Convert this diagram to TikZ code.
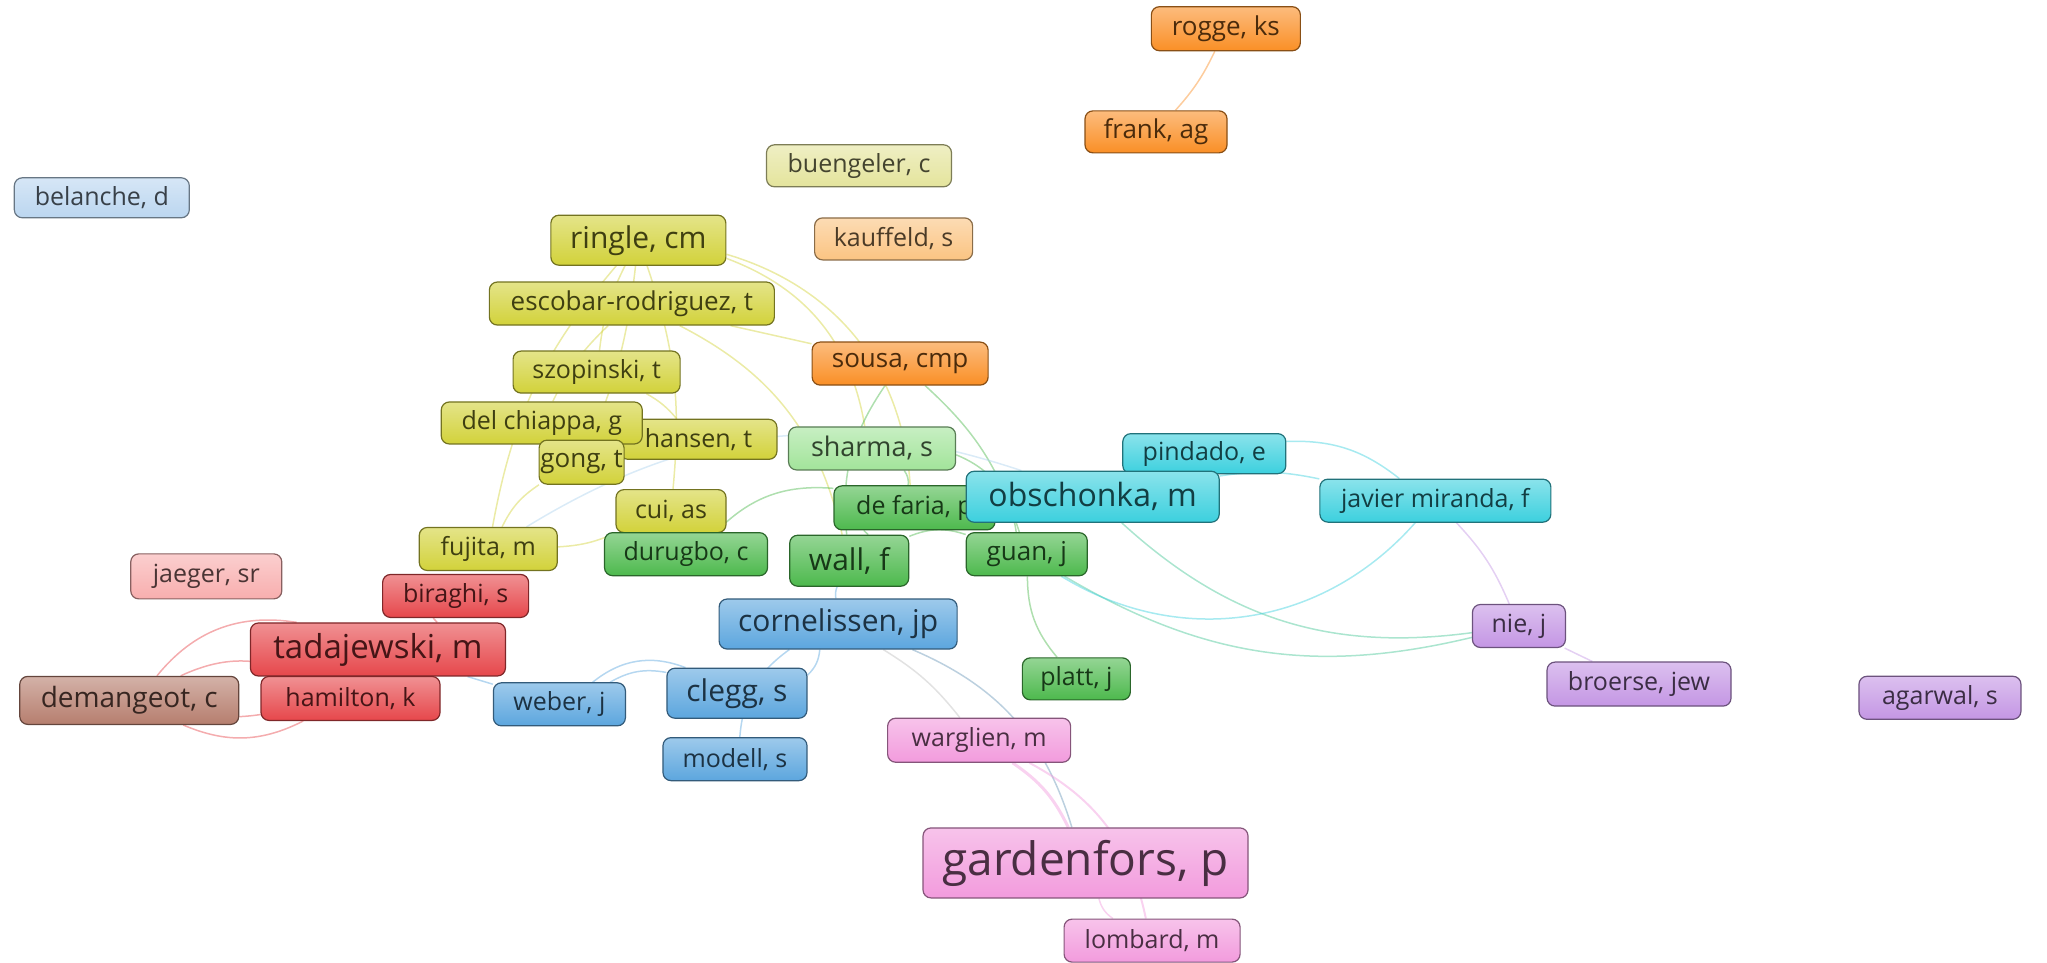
\documentclass[tikz,border=0pt]{standalone}
\usepackage{fontspec}
\setmainfont{Open Sans}
\usetikzlibrary{backgrounds}

\definecolor{cYel}{HTML}{D2D23A}
\definecolor{cPaleYel}{HTML}{E4E49C}
\definecolor{cGrn}{HTML}{4DB94D}
\definecolor{cLGrn}{HTML}{A2E49A}
\definecolor{cBlu}{HTML}{5CA6DE}
\definecolor{cLBlu}{HTML}{BBD6F0}
\definecolor{cCya}{HTML}{3CD0DE}
\definecolor{cRed}{HTML}{E6474B}
\definecolor{cPink}{HTML}{F8AEAE}
\definecolor{cBrn}{HTML}{B67E6E}
\definecolor{cOra}{HTML}{FA8F26}
\definecolor{cPeach}{HTML}{FBC482}
\definecolor{cPur}{HTML}{C496E4}
\definecolor{cMag}{HTML}{F29BDD}

\newcommand\fsz[1]{\fontsize{#1}{#1}\selectfont}

\begin{document}
\begin{tikzpicture}[x=1.3055pt, y=-1.3055pt,
    author/.style={rectangle, rounded corners=8pt, draw=#1!55!black, line width=1.2pt,
                   top color=#1!60!white, bottom color=#1, text=#1!30!black,
                   inner sep=0pt, font=\fsz{25}},
    wh/.style 2 args={minimum width=#1pt, minimum height=#2pt},
    link/.style={draw=#1, line width=1.5pt, opacity=0.45}]
  \useasboundingbox (0,0) rectangle (1568,737);

  % top and left
  \node[author=cOra, wh={149}{44}, font=\fsz{26}] (rogge) at (939,22) {rogge, ks};
  \node[author=cOra, wh={142}{42}, font=\fsz{26}] (frank) at (885.5,101) {frank, ag};
  \node[author=cPaleYel, wh={185}{42}] (buengeler) at (658,127) {buengeler, c};
  \node[author=cLBlu, wh={175}{40}] (belanche) at (78,151.5) {belanche, d};
  \node[author=cPeach, wh={158}{42}] (kauffeld) at (684.5,183) {kauffeld, s};

  % yellow group
  \node[author=cYel, wh={175}{50}, font=\fsz{30}] (ringle) at (489,184) {ringle, cm};
  \node[author=cYel, wh={285}{43}, font=\fsz{26}] (escobar) at (484,232.5) {escobar-rodriguez, t};
  \node[author=cOra, wh={176}{43}, font=\fsz{26}] (sousa) at (689.5,278.5) {sousa, cmp};
  \node[author=cYel, wh={167}{42}] (szopinski) at (457,285) {szopinski, t};
  \node[author=cYel, wh={157}{40}] (hansen) at (535,336.5) {hansen, t};
  \node[author=cYel, wh={201}{42}] (chiappa) at (415,324) {del chiappa, g};
  \node[author=cYel, wh={85}{44}, font=\fsz{26}] (gong) at (445.5,354) {gong, t};
  \node[author=cYel, wh={110}{43}] (cui) at (514,391.5) {cui, as};
  \node[author=cYel, wh={138}{43}] (fujita) at (374,420.5) {fujita, m};

  % green and cyan
  \node[author=cLGrn, wh={167}{43}, font=\fsz{27}] (sharma) at (668,343.5) {sharma, s};
  \node[author=cCya, wh={163}{40}] (pindado) at (922.5,347.5) {pindado, e};
  \node[author=cGrn, wh={161}{44}] (defaria) at (700.5,389) {de faria, p};
  \node[author=cCya, wh={253}{51}, font=\fsz{32}] (obschonka) at (837,380.5) {obschonka, m};
  \node[author=cCya, wh={231}{43}] (javier) at (1099.5,383.5) {javier miranda, f};
  \node[author=cGrn, wh={163}{43}] (durugbo) at (525.5,424.5) {durugbo, c};
  \node[author=cGrn, wh={119}{51}, font=\fsz{30}] (wall) at (650.5,429.5) {wall, f};
  \node[author=cGrn, wh={121}{43}, font=\fsz{26}] (guan) at (786.5,424.5) {guan, j};
  \node[author=cGrn, wh={108}{42}] (platt) at (824.5,520) {platt, j};

  % red and blue
  \node[author=cPink, wh={151}{45}] (jaeger) at (158,441.5) {jaeger, sr};
  \node[author=cRed, wh={146}{43}] (biraghi) at (349,456.5) {biraghi, s};
  \node[author=cRed, wh={255}{53}, font=\fsz{33}] (tadajewski) at (289.5,497.5) {tadajewski, m};
  \node[author=cBrn, wh={219}{48}, font=\fsz{28}] (demangeot) at (99,536.5) {demangeot, c};
  \node[author=cRed, wh={179}{44}] (hamilton) at (268.5,535) {hamilton, k};
  \node[author=cBlu, wh={238}{50}, font=\fsz{30}] (cornelissen) at (642,478) {cornelissen, jp};
  \node[author=cBlu, wh={132}{43}] (weber) at (428.5,539.5) {weber, j};
  \node[author=cBlu, wh={140}{50}, font=\fsz{30}] (clegg) at (564.5,531) {clegg, s};
  \node[author=cBlu, wh={144}{43}] (modell) at (563,581.5) {modell, s};

  % purple and pink
  \node[author=cPur, wh={93}{43}] (nie) at (1163.5,479.5) {nie, j};
  \node[author=cPur, wh={184}{44}] (broerse) at (1255.5,524) {broerse, jew};
  \node[author=cPur, wh={162}{43}] (agarwal) at (1486,534.5) {agarwal, s};
  \node[author=cMag, wh={183}{44}] (warglien) at (750,567) {warglien, m};
  \node[author=cMag, wh={325}{70}, font=\fsz{46}] (gardenfors) at (831.5,661) {gardenfors, p};
  \node[author=cMag, wh={176}{43}] (lombard) at (882.5,720.5) {lombard, m};

  \begin{scope}[on background layer]
    % orange
    \draw[link=cOra] (rogge) to[bend left=8] (frank);
    % yellow
    \draw[link=cYel] (ringle) to[bend right=10] (szopinski);
    \draw[link=cYel] (ringle) to[bend left=8] (gong);
    \draw[link=cYel] (ringle) to[bend right=15] (fujita);
    \draw[link=cYel] (ringle) to[bend left=12] (cui);
    \draw[link=cYel] (escobar) to[bend right=10] (chiappa);
    \draw[link=cYel] (escobar) -- (sousa);
    \draw[link=cYel] (ringle) to[bend left=35] (defaria);
    \draw[link=cYel] (ringle) to[bend left=30] (sharma);
    \draw[link=cYel] (escobar) to[bend left=25] (wall);
    \draw[link=cYel] (gong) to[bend right=15] (fujita);
    \draw[link=cYel] (cui) to[bend left=10] (fujita);
    \draw[link=cYel] (szopinski) to[bend left=10] (hansen);
    % green
    \draw[link=cGrn] (sharma) to[bend left=20] (defaria);
    \draw[link=cGrn] (sharma) to[bend left=30] (guan);
    \draw[link=cGrn] (defaria) to[bend right=15] (wall);
    \draw[link=cGrn] (wall) to[bend left=20] (guan);
    \draw[link=cGrn] (sousa) to[bend left=15] (guan);
    \draw[link=cGrn] (durugbo) to[bend left=25] (defaria);
    \draw[link=cGrn] (sousa) to[bend right=20] (wall);
    \draw[link=cGrn] (guan) to[bend right=20] (platt);
    \draw[link=cGrn!50!cCya] (guan) to[bend right=22] (nie);
    \draw[link=cGrn!50!cCya] (obschonka) to[bend right=25] (nie);
    % cyan
    \draw[link=cCya] (obschonka) to[bend left=15] (pindado);
    \draw[link=cCya] (obschonka) to[bend left=10] (javier);
    \draw[link=cCya] (pindado) to[bend left=20] (javier);
    \draw[link=cCya] (guan) to[bend right=40] (javier);
    % purple
    \draw[link=cPur] (javier) to[bend left=10] (nie);
    \draw[link=cPur] (nie) -- (broerse);
    % blue
    \draw[link=cBlu] (cornelissen) to[bend left=20] (clegg);
    \draw[link=cBlu] (cornelissen) to[bend right=25] (modell);
    \draw[link=cBlu] (clegg) to[bend right=30] (weber);
    \draw[link=cBlu] (weber) to[bend left=20] (clegg);
    \draw[link=cBlu] (tadajewski) -- (weber);
    \draw[link=cBlu!60!gray] (cornelissen) to[bend left=25] (gardenfors);
    \draw[link=cBlu] (cornelissen) to[bend left=15] (wall);
    \draw[link=cBlu!50!white] (fujita) to[bend left=25] (obschonka);
    % red
    \draw[link=cRed] (tadajewski) to[bend right=30] (demangeot);
    \draw[link=cRed] (tadajewski) to[bend left=20] (demangeot);
    \draw[link=cRed] (hamilton) to[bend left=25] (demangeot);
    \draw[link=cRed] (hamilton) to[bend right=25] (demangeot);
    \draw[link=cRed] (tadajewski) to[bend right=10] (biraghi);
    % pink
    \draw[link=cMag, line width=3pt] (warglien) to[bend left=15] (gardenfors);
    \draw[link=cMag] (gardenfors) to[bend right=20] (lombard);
    \draw[link=cMag, line width=2pt] (warglien) to[bend left=25] (lombard);
    \draw[link=gray!50] (cornelissen) to[bend left=10] (warglien);
  \end{scope}
\end{tikzpicture}
\end{document}
